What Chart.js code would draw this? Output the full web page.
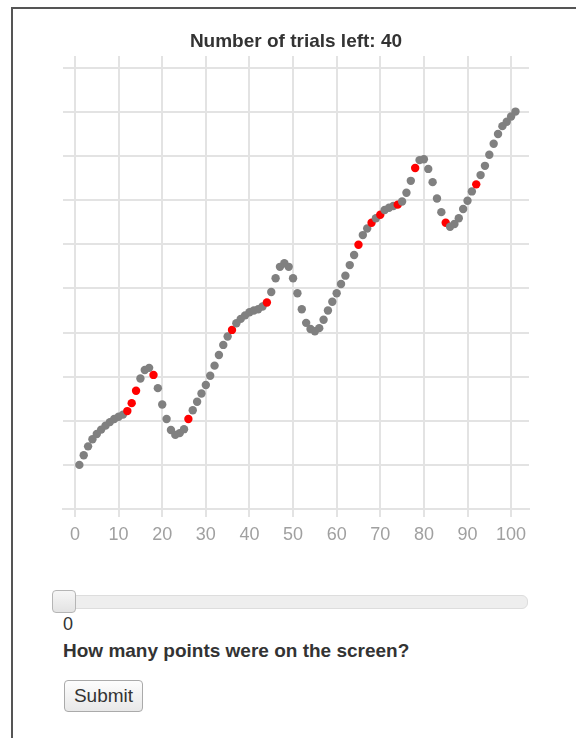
<!DOCTYPE html>
<html>
<head>
<meta charset="utf-8">
<script src="https://cdn.jsdelivr.net/npm/chart.js@4.4.0/dist/chart.umd.min.js"></script>
<style>
    body {
        margin: 0;
        background: #fff;
        font-family: 'Liberation Sans', Arial, sans-serif;
        color: #333;
    }
    .frame {
        position: absolute;
        left: 11px;
        top: 7px;
        width: 600px;
        height: 760px;
        border-left: 2px solid #555;
        border-top: 2px solid #555;
    }
    .chart-box {
        position: absolute;
        left: 0;
        top: 0;
        width: 576px;
        height: 560px;
    }
    .slider {
        position: absolute;
        left: 53px;
        top: 595px;
        width: 473px;
        height: 12px;
        background: #eee;
        border: 1px solid #ddd;
        border-radius: 6px;
    }
    .slider__handle {
        position: absolute;
        left: 52px;
        top: 590px;
        width: 22px;
        height: 21px;
        background: linear-gradient(#f6f6f6, #e3e3e3);
        border: 1px solid #b5b5b5;
        border-radius: 4px;
    }
    .slider-value {
        position: absolute;
        left: 63px;
        top: 614px;
        font-size: 18px;
    }
    .question {
        position: absolute;
        left: 63px;
        top: 640px;
        font-size: 19px;
        font-weight: bold;
    }
    .submit-btn {
        position: absolute;
        left: 64px;
        top: 680px;
        width: 79px;
        height: 32px;
        padding: 0;
        font-family: 'Liberation Sans', Arial, sans-serif;
        font-size: 19px;
        color: #333;
        background: linear-gradient(#fdfdfd, #e8e8e8);
        border: 1px solid #aaa;
        border-radius: 4px;
    }
</style>
</head>
<body>
<div class="frame"></div>
<div class="chart-box"><canvas id="trialChart" width="576" height="560"></canvas></div>
<div class="slider"></div>
<div class="slider__handle"></div>
<div class="slider-value">0</div>
<div class="question">How many points were on the screen?</div>
<button class="submit-btn">Submit</button>

<script>
// Chart data
const trialNumbers = [
    1, 2, 3, 4, 5, 6, 7, 8, 9, 10, 11, 12, 13, 14, 15, 16, 17, 18, 19, 20,
    21, 22, 23, 24, 25, 26, 27, 28, 29, 30, 31, 32, 33, 34, 35, 36, 37, 38, 39, 40,
    41, 42, 43, 44, 45, 46, 47, 48, 49, 50, 51, 52, 53, 54, 55, 56, 57, 58, 59, 60,
    61, 62, 63, 64, 65, 66, 67, 68, 69, 70, 71, 72, 73, 74, 75, 76, 77, 78, 79, 80,
    81, 82, 83, 84, 85, 86, 87, 88, 89, 90, 91, 92, 93, 94, 95, 96, 97, 98, 99, 100,
    101
];
const pointValues = [
    1.00, 1.22, 1.42, 1.58, 1.70, 1.80, 1.89, 1.97, 2.04, 2.09,
    2.14, 2.22, 2.40, 2.68, 2.96, 3.15, 3.20, 3.04, 2.74, 2.37,
    2.04, 1.79, 1.68, 1.72, 1.81, 2.04, 2.24, 2.43, 2.62, 2.81,
    3.02, 3.25, 3.49, 3.72, 3.91, 4.06, 4.21, 4.31, 4.39, 4.46,
    4.50, 4.53, 4.59, 4.68, 4.92, 5.23, 5.49, 5.57, 5.49, 5.23,
    4.89, 4.53, 4.22, 4.08, 4.03, 4.10, 4.29, 4.50, 4.70, 4.89,
    5.10, 5.29, 5.53, 5.76, 5.99, 6.21, 6.36, 6.49, 6.59, 6.67,
    6.78, 6.83, 6.87, 6.90, 6.97, 7.17, 7.44, 7.73, 7.91, 7.93,
    7.71, 7.41, 7.04, 6.73, 6.49, 6.40, 6.46, 6.59, 6.80, 6.99,
    7.20, 7.36, 7.57, 7.78, 8.03, 8.28, 8.50, 8.68, 8.78, 8.90,
    9.01
];
const redTrials = [12, 13, 14, 18, 26, 36, 44, 65, 68, 70, 74, 78, 85, 92];
const xTickValues = [0, 10, 20, 30, 40, 50, 60, 70, 80, 90, 100];
const yGridValues = [0, 1, 2, 3, 4, 5, 6, 7, 8, 9, 10];
const trialsLeft = 40;

const gridColor = '#e3e3e3';

// Build chart
const ctx = document.getElementById('trialChart').getContext('2d');
new Chart(ctx, {
    type: 'scatter',
    data: {
        datasets: [{
            data: trialNumbers.map((x, i) => ({ x: x, y: pointValues[i] })),
            pointBackgroundColor: trialNumbers.map(x => redTrials.includes(x) ? '#ff0000' : '#808080'),
            pointBorderWidth: 0,
            pointRadius: 4.2,
            pointHoverRadius: 4.2
        }]
    },
    options: {
        responsive: false,
        animation: false,
        layout: {
            padding: { left: 63, right: 47, top: 0, bottom: 0 }
        },
        plugins: {
            legend: { display: false },
            tooltip: { enabled: false },
            title: {
                display: true,
                text: 'Number of trials left: ' + trialsLeft,
                color: '#333',
                font: { family: 'Liberation Sans', size: 19, weight: 'bold' },
                padding: { top: 30.6, bottom: 2.6 }
            }
        },
        scales: {
            x: {
                type: 'linear',
                min: -2.75,
                max: 104.1,
                afterBuildTicks: scale => {
                    scale.ticks = xTickValues.map(v => ({ value: v }));
                },
                afterFit: scale => {
                    scale.height = 51;
                },
                grid: {
                    color: gridColor,
                    lineWidth: 2,
                    tickLength: 8
                },
                border: { color: gridColor, width: 2 },
                ticks: {
                    color: '#a0a0a0',
                    padding: 7,
                    font: { family: 'Liberation Sans', size: 18 }
                }
            },
            y: {
                min: 0,
                max: 10.27,
                afterBuildTicks: scale => {
                    scale.ticks = yGridValues.map(v => ({ value: v }));
                },
                afterFit: scale => {
                    scale.width = 0;
                },
                grid: {
                    color: gridColor,
                    lineWidth: 2,
                    drawTicks: false
                },
                border: { display: false },
                ticks: { display: false }
            }
        }
    }
});
</script>
</body>
</html>
